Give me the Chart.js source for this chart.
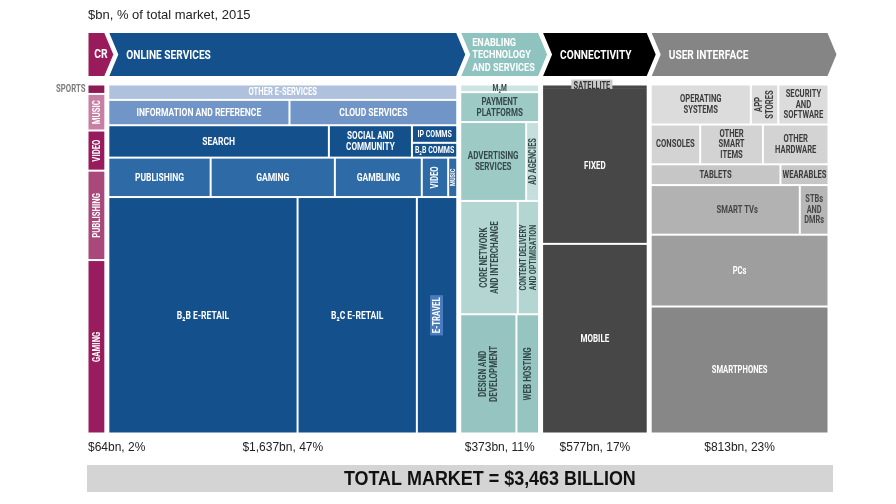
<!DOCTYPE html>
<html>
<head>
<meta charset="utf-8">
<script src="https://cdn.jsdelivr.net/npm/chart.js@4.4.1/dist/chart.umd.min.js"></script>
<style>
html,body{margin:0;padding:0;background:#fff;}
#wrap{width:896px;height:504px;}
</style>
</head>
<body>
<div id="wrap"><canvas id="c" width="896" height="504"></canvas></div>
<script>
// ================= DATA =================
const subtitle = '$bn, % of total market, 2015';
const totalLabel = 'TOTAL MARKET = $3,463 BILLION';
const columnNames = ['CR', 'ONLINE SERVICES', 'ENABLING\nTECHNOLOGY\nAND SERVICES', 'CONNECTIVITY', 'USER INTERFACE'];
const columnTotals = ['$64bn, 2%', '$1,637bn, 47%', '$373bn, 11%', '$577bn, 17%', '$813bn, 23%'];
// drawn width of each column, % of the chart width
const columnWidths = [2.8, 47.3, 11.0, 14.6, 24.3];

// rows: heights in % of column height; cells: [label, % of row width, (optional stacked split %)]
const crRowHeights = [3.1, 10.4, 11.4, 25.4, 49.7];
const crCells = [
  [['SPORTS', 100]],
  [['MUSIC', 100]],
  [['VIDEO', 100]],
  [['PUBLISHING', 100]],
  [['GAMING', 100]]
];

const onlineRowHeights = [4.8, 7.2, 9.2, 11.2, 67.6];
const onlineCells = [
  [['OTHER E-SERVICES', 100]],
  [['INFORMATION AND REFERENCE', 51.9], ['CLOUD SERVICES', 48.1]],
  [['SEARCH', 63.1], ['SOCIAL AND\nCOMMUNITY', 23.6], ['IP COMMS|B₂B COMMS', 13.3, [54.3, 45.7]]],
  [['PUBLISHING', 29.5], ['GAMING', 35.3], ['GAMBLING', 24.7], ['VIDEO', 7.5], ['MUSIC', 3.0]],
  [['B₂B E-RETAIL', 54.2], ['B₂C E-RETAIL', 33.9], ['E-TRAVEL', 11.9]]
];

const enablingRowHeights = [2.6, 8.5, 22.4, 32.2, 34.3];
const enablingCells = [
  [['M₂M', 100]],
  [['PAYMENT\nPLATFORMS', 100]],
  [['ADVERTISING\nSERVICES', 82.4], ['AD AGENCIES', 17.6]],
  [['CORE NETWORK\nAND INTERCHANGE', 72.1], ['CONTENT DELIVERY\nAND OPTIMISATION', 27.9]],
  [['DESIGN AND\nDEVELOPMENT', 70.5], ['WEB HOSTING', 29.5]]
];

const connectivityRowHeights = [1.4, 44.3, 54.3];
const connectivityCells = [
  [['SATELLITE', 100]],
  [['FIXED', 100]],
  [['MOBILE', 100]]
];

const uiRowHeights = [11.8, 11.3, 5.9, 14.1, 20.4, 36.5];
const uiCells = [
  [['OPERATING\nSYSTEMS', 56.2], ['APP\nSTORES', 15.2], ['SECURITY\nAND\nSOFTWARE', 28.6]],
  [['CONSOLES', 28.2], ['OTHER\nSMART\nITEMS', 34.7], ['OTHER\nHARDWARE', 37.1]],
  [['TABLETS', 72.6], ['WEARABLES', 27.4]],
  [['SMART TVs', 83.3], ['STBs\nAND\nDMRs', 16.7]],
  [['PCs', 100]],
  [['SMARTPHONES', 100]]
];

// ================= STYLE =================
const FONT = 'Roboto, "DejaVu Sans", sans-serif';
const CONDENSE = 0.74;
const headerColors = ['#9a1b5b', '#14508c', '#8ec3bf', '#000000', '#858585'];
const rowColors = [
  ['#8c1a54', '#c77fa3', '#981c5d', '#a9487a', '#991d5e'],
  ['#afc1dc', '#7095c6', '#14508c', '#2d6aa6', '#14508c'],
  ['#cde4e2', '#9ecac6', '#9ecac6', '#b4d6d3', '#96c4c0'],
  ['#474747', '#474747', '#474747'],
  ['#dcdcdc', '#d3d3d3', '#c6c6c6', '#b2b2b2', '#9e9e9e', '#878787']
];
const rowTextColors = [
  ['#fff', '#fff', '#fff', '#fff', '#fff'],
  ['#fff', '#fff', '#fff', '#fff', '#fff'],
  ['#34494a', '#34494a', '#34494a', '#34494a', '#34494a'],
  ['#333', '#fff', '#fff'],
  ['#3c3c3c', '#3c3c3c', '#3c3c3c', '#474747', '#fff', '#fff']
];
const columnFontSize = [10.5, 11.5, 10.8, 10.8, 10.3];
const cellStyle = {
  '0:SPORTS': {outside: true},
  '0:MUSIC': {vertical: true}, '0:VIDEO': {vertical: true},
  '0:PUBLISHING': {vertical: true}, '0:GAMING': {vertical: true},
  '1:OTHER E-SERVICES': {size: 10.3},
  '1:VIDEO': {vertical: true, size: 10.5}, '1:MUSIC': {vertical: true, size: 7.5},
  '1:E-TRAVEL': {vertical: true, size: 10.5, bg: '#4a7cbd'},
  '1:IP COMMS': {size: 9.5}, '1:B₂B COMMS': {size: 9.5},
  '1:SOCIAL AND\nCOMMUNITY': {size: 11},
  '2:M₂M': {size: 9},
  '2:AD AGENCIES': {vertical: true, size: 10, fill: '#c4dfdd'},
  '2:CORE NETWORK\nAND INTERCHANGE': {vertical: true},
  '2:CONTENT DELIVERY\nAND OPTIMISATION': {vertical: true, size: 9.6},
  '2:DESIGN AND\nDEVELOPMENT': {vertical: true},
  '2:WEB HOSTING': {vertical: true},
  '3:SATELLITE': {tag: true, size: 10},
  '4:APP\nSTORES': {vertical: true},
  '4:SMART TVs': {dx: 12},
  '4:STBs\nAND\nDMRs': {fill: '#b7b7b7', size: 10}
};

function drawLabel(ctx, text, cx, cy, o) {
  const size = o.size, lines = text.split('\n'), lh = size * 1.04;
  ctx.save();
  ctx.translate(cx, cy);
  if (o.vertical) ctx.rotate(-Math.PI / 2);
  ctx.scale(o.condense || CONDENSE, 1);
  ctx.font = (o.weight || 'bold') + ' ' + size + 'px ' + (o.family || FONT);
  ctx.textAlign = o.align || 'center';
  ctx.textBaseline = 'middle';
  if (o.bg) {
    let w = 0; lines.forEach(l => w = Math.max(w, ctx.measureText(l).width));
    ctx.fillStyle = o.bg;
    const bh = lines.length * lh + 2;
    const bx = ctx.textAlign === 'center' ? -w / 2 - 3 : -3;
    ctx.fillRect(bx, -bh / 2 - 0.5, w + 6, bh);
  }
  ctx.fillStyle = o.color;
  lines.forEach((l, i) => ctx.fillText(l, 0, (i - (lines.length - 1) / 2) * lh + 0.5));
  ctx.restore();
}

const mekkoPlugin = {
  id: 'mekko',
  beforeDatasetsDraw(chart) {
    const ctx = chart.ctx, xs = chart.scales.x, ys = chart.scales.y, ca = chart.chartArea;
    const X = v => xs.getPixelForValue(v), Y = v => ys.getPixelForValue(v);
    const cols = [
      [crRowHeights, crCells], [onlineRowHeights, onlineCells], [enablingRowHeights, enablingCells],
      [connectivityRowHeights, connectivityCells], [uiRowHeights, uiCells]
    ];
    const cum = [0];
    columnWidths.forEach(w => cum.push(cum[cum.length - 1] + w));
    const COL = 2.5, CELL = 1, D = 9;

    // subtitle
    drawLabel(ctx, subtitle, X(0) + 2, 15, {size: 13, weight: 'normal', family: '"Liberation Sans", Arial, sans-serif', color: '#222', align: 'left', condense: 1});

    cols.forEach(([heights, cells], c) => {
      const x0 = cum[c], x1 = cum[c + 1];
      // header chevron
      const hl = X(x0) + COL, hr = X(x1) - COL, ht = ca.top - 50, hb = ca.top - 7, hm = (ht + hb) / 2;
      ctx.beginPath();
      ctx.moveTo(hl, ht); ctx.lineTo(hr, ht); ctx.lineTo(hr + D, hm); ctx.lineTo(hr, hb); ctx.lineTo(hl, hb);
      if (c > 0) ctx.lineTo(hl + D, hm);
      ctx.closePath();
      ctx.fillStyle = headerColors[c];
      ctx.fill();
      const hn = columnNames[c];
      if (c === 0) {
        drawLabel(ctx, hn, (hl + hr + D) / 2, hm, {size: 13, color: '#fff', condense: 0.8});
      } else {
        const multi = hn.indexOf('\n') >= 0;
        drawLabel(ctx, hn, hl + (multi ? 11 : 17), hm + 0.5, {size: multi ? 11.7 : 13, color: '#fff', align: 'left', condense: 0.78});
      }
      // bottom totals
      if (c === 0) {
        drawLabel(ctx, columnTotals[c], X(x0) + 2, ca.bottom + 12, {size: 12, weight: 'normal', family: '"Liberation Sans", Arial, sans-serif', color: '#222', align: 'left', condense: 1});
      } else {
        drawLabel(ctx, columnTotals[c], (X(x0) + X(x1)) / 2, ca.bottom + 12, {size: 12, weight: 'normal', family: '"Liberation Sans", Arial, sans-serif', color: '#222', condense: 1});
      }
      // cells
      let yc = 0;
      heights.forEach((h, r) => {
        const y0 = yc, y1 = yc + h; yc = y1;
        const firstRow = r === 0, lastRow = r === heights.length - 1;
        let xc = 0;
        cells[r].forEach((cell, k) => {
          const [name, w, split] = cell;
          const cx0 = x0 + (x1 - x0) * xc / 100, cx1 = x0 + (x1 - x0) * (xc + w) / 100;
          xc += w;
          const firstCell = k === 0, lastCell = k === cells[r].length - 1;
          const l = X(cx0) + (firstCell ? COL : CELL), rr = X(cx1) - (lastCell ? COL : CELL);
          const parts = split ? name.split('|') : [name];
          const shares = split || [100];
          let sc = 0;
          parts.forEach((pn, j) => {
            const sy0 = y0 + h * sc / 100, sy1 = y0 + h * (sc + shares[j]) / 100;
            sc += shares[j];
            const t = Y(sy0) + ((firstRow && j === 0) ? COL : CELL);
            const b = Y(sy1) - ((lastRow && j === parts.length - 1) ? COL : CELL);
            const st = cellStyle[c + ':' + pn] || {};
            ctx.fillStyle = st.fill || rowColors[c][r];
            if (st.tag) {
              ctx.fillStyle = rowColors[c][r + 1];
              ctx.fillRect(l, t, rr - l, b - t + 2 * CELL);
            } else {
              ctx.fillRect(l, t, rr - l, b - t);
            }
            const opts = {size: st.size || columnFontSize[c], color: rowTextColors[c][r], vertical: st.vertical, bg: st.bg};
            if (st.outside) {
              drawLabel(ctx, pn, l - 3, (t + b) / 2, {size: 10.5, color: '#7d7d7d', align: 'right'});
            } else if (st.tag) {
              drawLabel(ctx, pn, (l + rr) / 2 - 3, (t + b) / 2, Object.assign(opts, {bg: '#c9c9c9', color: '#333'}));
            } else {
              drawLabel(ctx, pn, (l + rr) / 2 + (st.dx || 0), (t + b) / 2, opts);
            }
          });
        });
      });
    });

    // total market bar
    const tl = ca.left + 1, tr = ca.right + 3, tt = ca.bottom + 30, tb = ca.bottom + 57;
    ctx.fillStyle = '#d4d4d4';
    ctx.fillRect(tl, tt, tr - tl, tb - tt);
    drawLabel(ctx, totalLabel, tl + (tr - tl) * 0.54, (tt + tb) / 2 + 0.5, {size: 19.5, color: '#111', family: '"Liberation Sans", Arial, sans-serif', condense: 0.92});
  }
};

new Chart(document.getElementById('c'), {
  type: 'scatter',
  data: { datasets: [{ data: [] }] },
  options: {
    responsive: false,
    animation: false,
    devicePixelRatio: 1,
    layout: { padding: { left: 86, right: 66, top: 83, bottom: 69 } },
    scales: {
      x: { type: 'linear', min: 0, max: 100, display: false },
      y: { type: 'linear', min: 0, max: 100, reverse: true, display: false }
    },
    plugins: { legend: { display: false }, tooltip: { enabled: false } }
  },
  plugins: [mekkoPlugin]
});
</script>
</body>
</html>
